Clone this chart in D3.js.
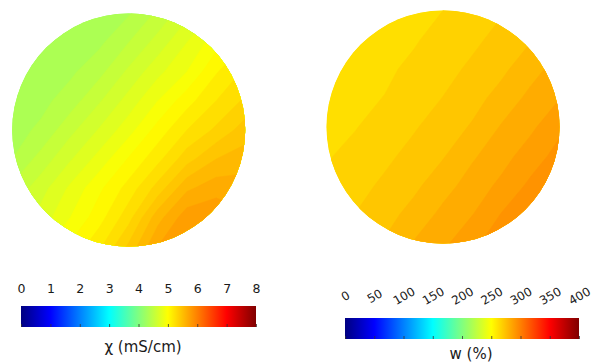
<!DOCTYPE html>
<html>
<head>
<meta charset="utf-8">
<script src="https://cdn.jsdelivr.net/npm/d3@7"></script>
<style>
  body { margin: 0; background: #fff; }
  svg { display: block; }
  text { font-family: "DejaVu Sans", Verdana, sans-serif; fill: #1a1a1a; }
</style>
</head>
<body>
<div id="chart"></div>
<script>
// 9 x 9 samples over each disc's bounding square (row 0 = top)
const gridCols = 9, gridRows = 9;

// conductivity chi (mS/cm)
const condValues = [
  4.25, 4.27, 4.30, 4.34, 4.39, 4.52, 4.67, 4.82, 4.98,
  4.27, 4.29, 4.34, 4.38, 4.50, 4.64, 4.80, 4.96, 5.10,
  4.29, 4.33, 4.38, 4.47, 4.62, 4.77, 4.90, 5.09, 5.22,
  4.32, 4.37, 4.45, 4.59, 4.74, 4.90, 5.06, 5.20, 5.32,
  4.36, 4.42, 4.57, 4.71, 4.86, 5.04, 5.20, 5.32, 5.45,
  4.40, 4.54, 4.69, 4.84, 5.01, 5.17, 5.36, 5.50, 5.55,
  4.52, 4.66, 4.82, 4.98, 5.14, 5.34, 5.58, 5.66, 5.65,
  4.60, 4.74, 4.90, 5.06, 5.26, 5.56, 5.76, 5.78, 5.72,
  4.70, 4.86, 5.02, 5.18, 5.42, 5.70, 5.82, 5.80, 5.75
];

// water content w (%)
const waterValues = [
  261, 262, 263, 264, 265, 267, 269.5, 272.4, 275.5,
  261.7, 262.7, 263.6, 264.6, 266.4, 268.9, 271.6, 274.6, 279.3,
  262.4, 263.4, 264.3, 265.8, 268.3, 270.9, 273.8, 278, 282.1,
  263.1, 264.1, 265.1, 267.6, 270.1, 273.1, 276.8, 281.3, 284.8,
  263.9, 264.8, 267, 269.5, 272.4, 275.5, 280.4, 283.9, 288.9,
  264.6, 266.4, 268.9, 271.6, 274.6, 279.3, 283, 287.5, 291.8,
  265.8, 268.3, 270.9, 273.8, 278, 282.1, 286.1, 291, 294.3,
  267.6, 270.1, 273.1, 276.8, 281.3, 284.8, 290.2, 293.5, 296.5,
  269.5, 272.4, 275.5, 280.4, 283.9, 288.9, 292.7, 296, 298
];

const condTicks = [0, 1, 2, 3, 4, 5, 6, 7, 8];
const waterTicks = [0, 50, 100, 150, 200, 250, 300, 350, 400];
const condLevels = [4.2, 4.3, 4.4, 4.5, 4.6, 4.7, 4.8, 4.9, 5.0, 5.1, 5.2, 5.3, 5.4, 5.5, 5.6, 5.7, 5.8, 5.9];
const waterLevels = [260, 265, 270, 275, 280, 285, 290, 295];

const width = 593, height = 364;

// matlab-style jet colormap, t in [0,1]
function jet(t) {
  t = Math.max(0, Math.min(1, t));
  const c = v => Math.max(0, Math.min(1, v)) * 255;
  const r = c(Math.min(4 * t - 1.5, -4 * t + 4.5));
  const g = c(Math.min(4 * t - 0.5, -4 * t + 3.5));
  const b = c(Math.min(4 * t + 0.5, -4 * t + 2.5));
  return d3.rgb(r, g, b).formatHex();
}

const svg = d3.select("#chart").append("svg")
    .attr("width", width)
    .attr("height", height);

// shared jet gradient for the colour bars
var grad = svg.append("defs").append("linearGradient")
    .attr("id", "jetGrad")
    .attr("x1", "0%").attr("x2", "100%").attr("y1", "0%").attr("y2", "0%");
grad.selectAll("stop")
  .data(d3.range(0, 1.0001, 1 / 32))
  .join("stop")
    .attr("offset", t => (t * 100) + "%")
    .attr("stop-color", t => jet(t));

// draw a filled contour disc
function drawDisc(id, values, levels, step, vmax, cx, cy, r) {
  var xs = d3.scaleLinear().domain([0.5, gridCols - 0.5]).range([cx - r, cx + r]);
  var ys = d3.scaleLinear().domain([0.5, gridRows - 0.5]).range([cy - r, cy + r]);
  var proj = d3.geoTransform({
    point: function(x, y) { this.stream.point(xs(x), ys(y)); }
  });
  var path = d3.geoPath(proj);

  svg.append("clipPath").attr("id", id)
    .append("circle").attr("cx", cx).attr("cy", cy).attr("r", r);

  var g = svg.append("g").attr("clip-path", "url(#" + id + ")");
  var color = t => jet((t + step / 2) / vmax);

  g.append("circle")
      .attr("cx", cx).attr("cy", cy).attr("r", r)
      .attr("fill", color(levels[0]));

  var contours = d3.contours()
      .size([gridCols, gridRows])
      .thresholds(levels)(values);

  g.selectAll("path")
    .data(contours)
    .join("path")
      .attr("d", path)
      .attr("fill", d => color(d.value))
      .attr("stroke", d => color(d.value))
      .attr("stroke-width", 0.6);
}

drawDisc("clipCond", condValues, condLevels, 0.1, 8, 128.7, 130, 116.5);
drawDisc("clipWater", waterValues, waterLevels, 5, 400, 443, 127, 116.5);

// colour bar with ticks
function drawBar(ticks, vmax, x0, x1, y0, h, rotate, labelY, fontSize, title, titleX, titleY) {
  var x = d3.scaleLinear().domain([0, vmax]).range([x0, x1]);
  svg.append("rect")
      .attr("x", x(0))
      .attr("y", y0)
      .attr("width", x(vmax) - x(0))
      .attr("height", h)
      .attr("fill", "url(#jetGrad)");

  // small inward ticks along the bottom edge
  var tk = svg.append("g")
      .attr("transform", "translate(0," + (y0 + h) + ")")
      .call(d3.axisBottom(x).tickValues(ticks).tickSize(-3).tickFormat(""));
  tk.select(".domain").remove();
  tk.selectAll("line").attr("stroke", "#333").attr("stroke-width", 0.8);

  var lab = svg.append("g")
      .attr("transform", "translate(0," + labelY + ")")
      .call(d3.axisTop(x).tickValues(ticks).tickSize(0).tickPadding(0));
  lab.select(".domain").remove();
  lab.selectAll("text")
      .attr("font-size", fontSize)
      .attr("font-family", "DejaVu Sans, Verdana, sans-serif")
      .attr("fill", "#1a1a1a");
  if (rotate) {
    lab.selectAll("text")
        .attr("y", 0)
        .attr("dy", "0.35em")
        .attr("text-anchor", "middle")
        .attr("transform", "rotate(" + rotate + ")");
  }

  svg.append("text")
      .attr("x", titleX)
      .attr("y", titleY)
      .attr("text-anchor", "middle")
      .attr("font-size", 15)
      .text(title);
}

drawBar(condTicks, 8, 21, 256, 306, 21, 0, 293, 12.5, "\u03c7 (mS/cm)", 143, 352);
drawBar(waterTicks, 400, 345, 579, 318, 21, -30, 296, 12, "w (%)", 471, 359);
</script>
</body>
</html>
